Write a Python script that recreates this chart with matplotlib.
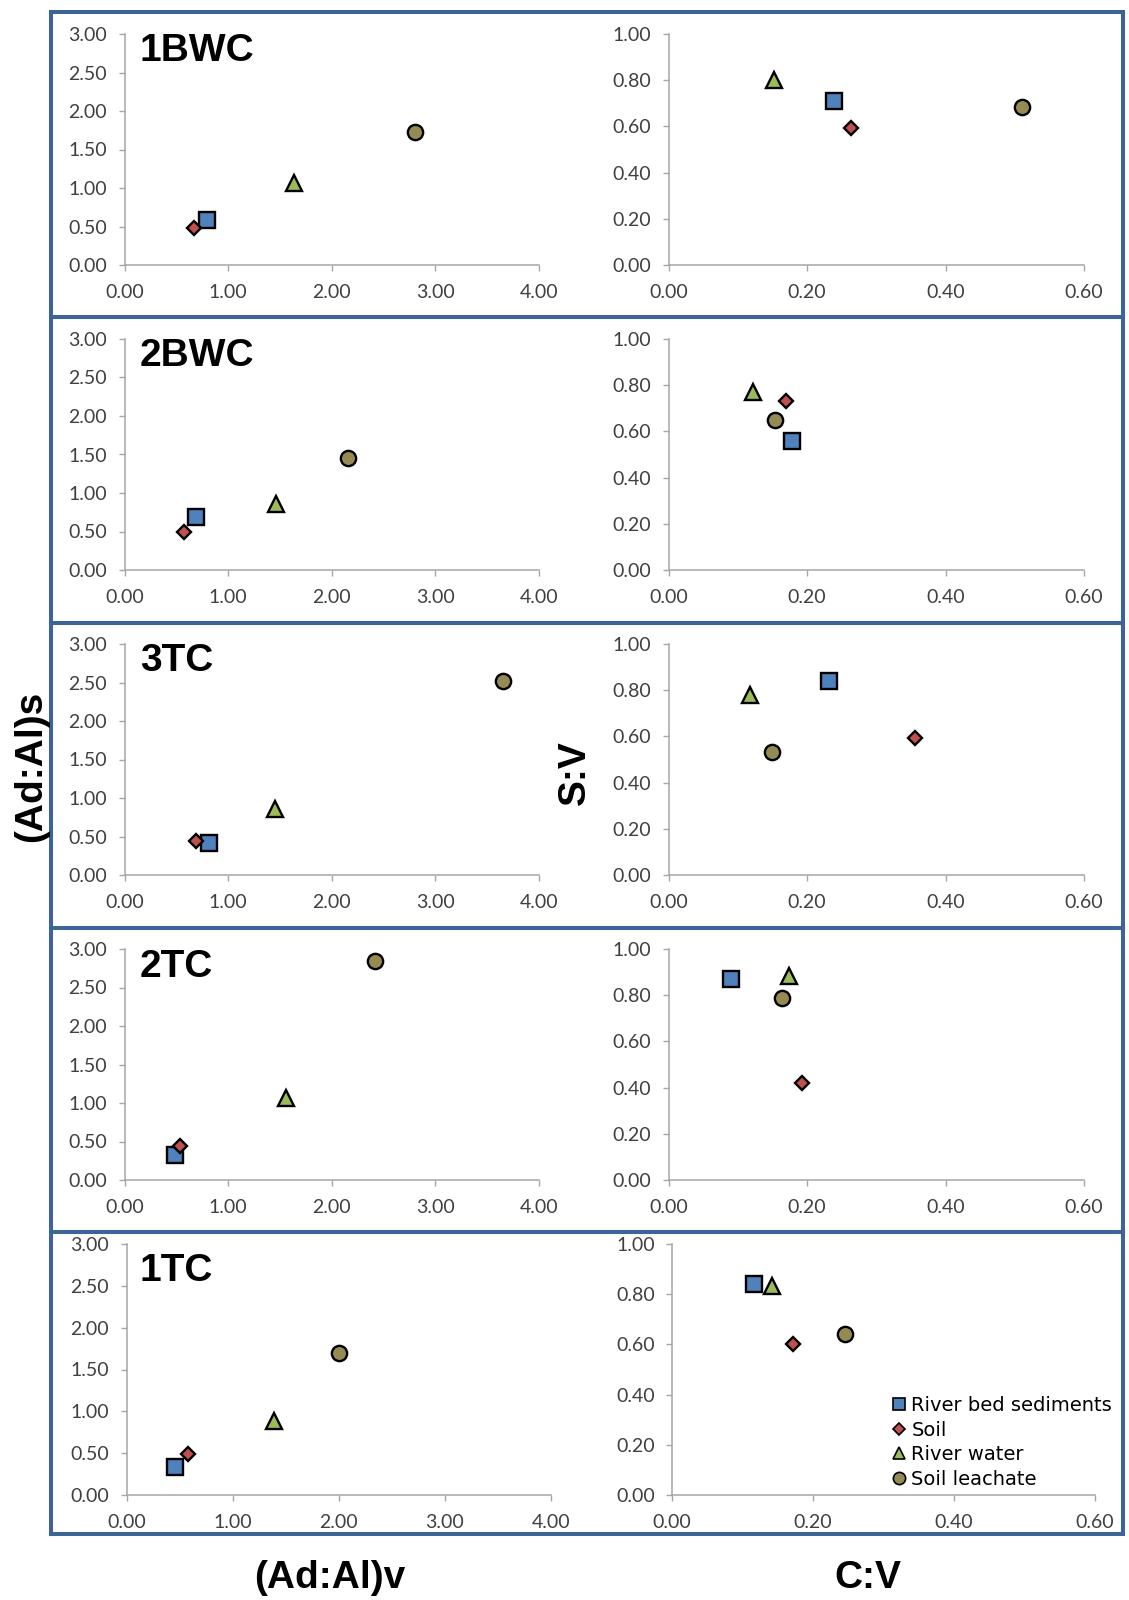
import matplotlib
matplotlib.use("Agg")
import matplotlib.pyplot as plt
from matplotlib.lines import Line2D
from matplotlib import font_manager
from matplotlib.ticker import FormatStrFormatter

# ---------------- data ----------------
panels = ["1BWC", "2BWC", "3TC", "2TC", "1TC"]
series = ["River bed sediments", "Soil", "River water", "Soil leachate"]

# (Ad:Al)v  vs (Ad:Al)s  -- order: sediments, soil, river water, leachate
adal_v = [
    [0.80, 0.67, 1.64, 2.80],
    [0.69, 0.57, 1.46, 2.16],
    [0.82, 0.69, 1.45, 3.65],
    [0.49, 0.54, 1.56, 2.42],
    [0.46, 0.58, 1.39, 2.00],
]
adal_s = [
    [0.58, 0.48, 1.07, 1.73],
    [0.69, 0.50, 0.86, 1.46],
    [0.41, 0.44, 0.86, 2.52],
    [0.32, 0.44, 1.07, 2.84],
    [0.33, 0.49, 0.89, 1.70],
]
# C:V vs S:V
c_v = [
    [0.239, 0.263, 0.152, 0.510],
    [0.178, 0.170, 0.122, 0.153],
    [0.232, 0.356, 0.117, 0.149],
    [0.090, 0.192, 0.174, 0.164],
    [0.116, 0.171, 0.142, 0.246],
]
s_v = [
    [0.71, 0.595, 0.80, 0.683],
    [0.557, 0.73, 0.77, 0.65],
    [0.841, 0.593, 0.779, 0.531],
    [0.872, 0.42, 0.885, 0.788],
    [0.84, 0.60, 0.833, 0.64],
]
left_xticks = [0, 1, 2, 3, 4]
left_yticks = [0, 0.5, 1.0, 1.5, 2.0, 2.5, 3.0]
right_xticks = [0, 0.2, 0.4, 0.6]
right_yticks = [0, 0.2, 0.4, 0.6, 0.8, 1.0]

# ---------------- styles ----------------
markers = ["s", "D", "^", "o"]
msizes = [11, 7.5, 11.5, 11]
colors = ["#4F81BD", "#C0504D", "#9BBB59", "#948A54"]

avail = {f.name for f in font_manager.fontManager.ttflist}
tick_font = "Lato" if "Lato" in avail else "DejaVu Sans"
bold_font = "Liberation Sans" if "Liberation Sans" in avail else "DejaVu Sans"

W, H = 1129, 1600
fig = plt.figure(figsize=(W / 100, H / 100), dpi=100)


def rect(x0, x1, ytop, ybot):
    return [x0 / W, 1 - ybot / H, (x1 - x0) / W, (ybot - ytop) / H]


left_boxes = [(124.5, 539, 34 + 305 * k, 265 + 305 * k) for k in range(4)] + [(126.6, 551, 1244, 1495)]
right_boxes = [(668.6, 1084, 34 + 305 * k, 265 + 305 * k) for k in range(4)] + [(672, 1095, 1244, 1495)]
label_baselines = [61, 366, 671, 977, 1281]

axis_col = "#A6A6A6"
tick_col = "#404040"


def style(ax, xt, yt, xlim, ylim):
    for s in ["top", "right"]:
        ax.spines[s].set_visible(False)
    for s in ["left", "bottom"]:
        ax.spines[s].set_color(axis_col)
        ax.spines[s].set_linewidth(1.1)
    ax.set_xlim(*xlim)
    ax.set_ylim(*ylim)
    ax.set_xticks(xt)
    ax.set_yticks(yt)
    ax.xaxis.set_major_formatter(FormatStrFormatter("%.2f"))
    ax.yaxis.set_major_formatter(FormatStrFormatter("%.2f"))
    ax.tick_params(axis="both", direction="out", length=4.5, width=1.0, color=axis_col,
                   labelcolor=tick_col, labelsize=14)
    ax.tick_params(axis="y", pad=8)
    ax.tick_params(axis="x", pad=9.5)
    for lab in ax.get_xticklabels() + ax.get_yticklabels():
        lab.set_fontfamily(tick_font)
    ax.patch.set_alpha(0)


for k in range(5):
    axl = fig.add_axes(rect(*left_boxes[k]))
    axr = fig.add_axes(rect(*right_boxes[k]))
    for i in range(4):
        axl.plot(adal_v[k][i], adal_s[k][i], linestyle="none", marker=markers[i], ms=msizes[i],
                 mfc=colors[i], mec="black", mew=1.7, clip_on=False, zorder=3)
        axr.plot(c_v[k][i], s_v[k][i], linestyle="none", marker=markers[i], ms=msizes[i],
                 mfc=colors[i], mec="black", mew=1.7, clip_on=False, zorder=3)
    style(axl, left_xticks, left_yticks, (0, 4), (0, 3))
    style(axr, right_xticks, right_yticks, (0, 0.6), (0, 1))
    fig.text(140 / W, 1 - label_baselines[k] / H, panels[k], fontsize=28, fontweight="bold",
             family=bold_font, ha="left", va="baseline", color="black")

# legend
handles = [Line2D([], [], linestyle="none", marker=markers[i], ms=msizes[i] * 0.8,
                  mfc=colors[i], mec="black", mew=1.2) for i in range(4)]
fig.legend(handles, series, loc="upper left", bbox_to_anchor=(891 / W, 1 - 1396 / H),
           frameon=False, handlelength=0.8, handletextpad=0.25, labelspacing=0.29,
           borderpad=0, borderaxespad=0, prop={"family": "DejaVu Sans", "size": 14})

# axis titles
fig.text(31 / W, 1 - 766 / H, "(Ad:Al)s", rotation=90, fontsize=28, fontweight="bold",
         family=bold_font, ha="center", va="center")
fig.text(575 / W, 1 - 773 / H, "S:V", rotation=90, fontsize=28, fontweight="bold",
         family=bold_font, ha="center", va="center")
fig.text(330 / W, 1 - 1578 / H, "(Ad:Al)v", fontsize=28, fontweight="bold",
         family=bold_font, ha="center", va="center")
fig.text(868 / W, 1 - 1578 / H, "C:V", fontsize=28, fontweight="bold",
         family=bold_font, ha="center", va="center")

# frame
frame_col = "#3D6497"
fx0, fx1, fy0, fy1 = 51, 1123, 12, 1534
lw = 2.9


def hline(y):
    fig.add_artist(Line2D([fx0 / W, fx1 / W], [1 - y / H, 1 - y / H], color=frame_col, lw=lw,
                          transform=fig.transFigure, solid_capstyle="projecting"))


def vline(x):
    fig.add_artist(Line2D([x / W, x / W], [1 - fy0 / H, 1 - fy1 / H], color=frame_col, lw=lw,
                          transform=fig.transFigure, solid_capstyle="projecting"))


for y in [fy0, 317, 622.5, 927.5, 1232, fy1]:
    hline(y)
vline(fx0)
vline(fx1)

fig.savefig("out.png", dpi=100)
